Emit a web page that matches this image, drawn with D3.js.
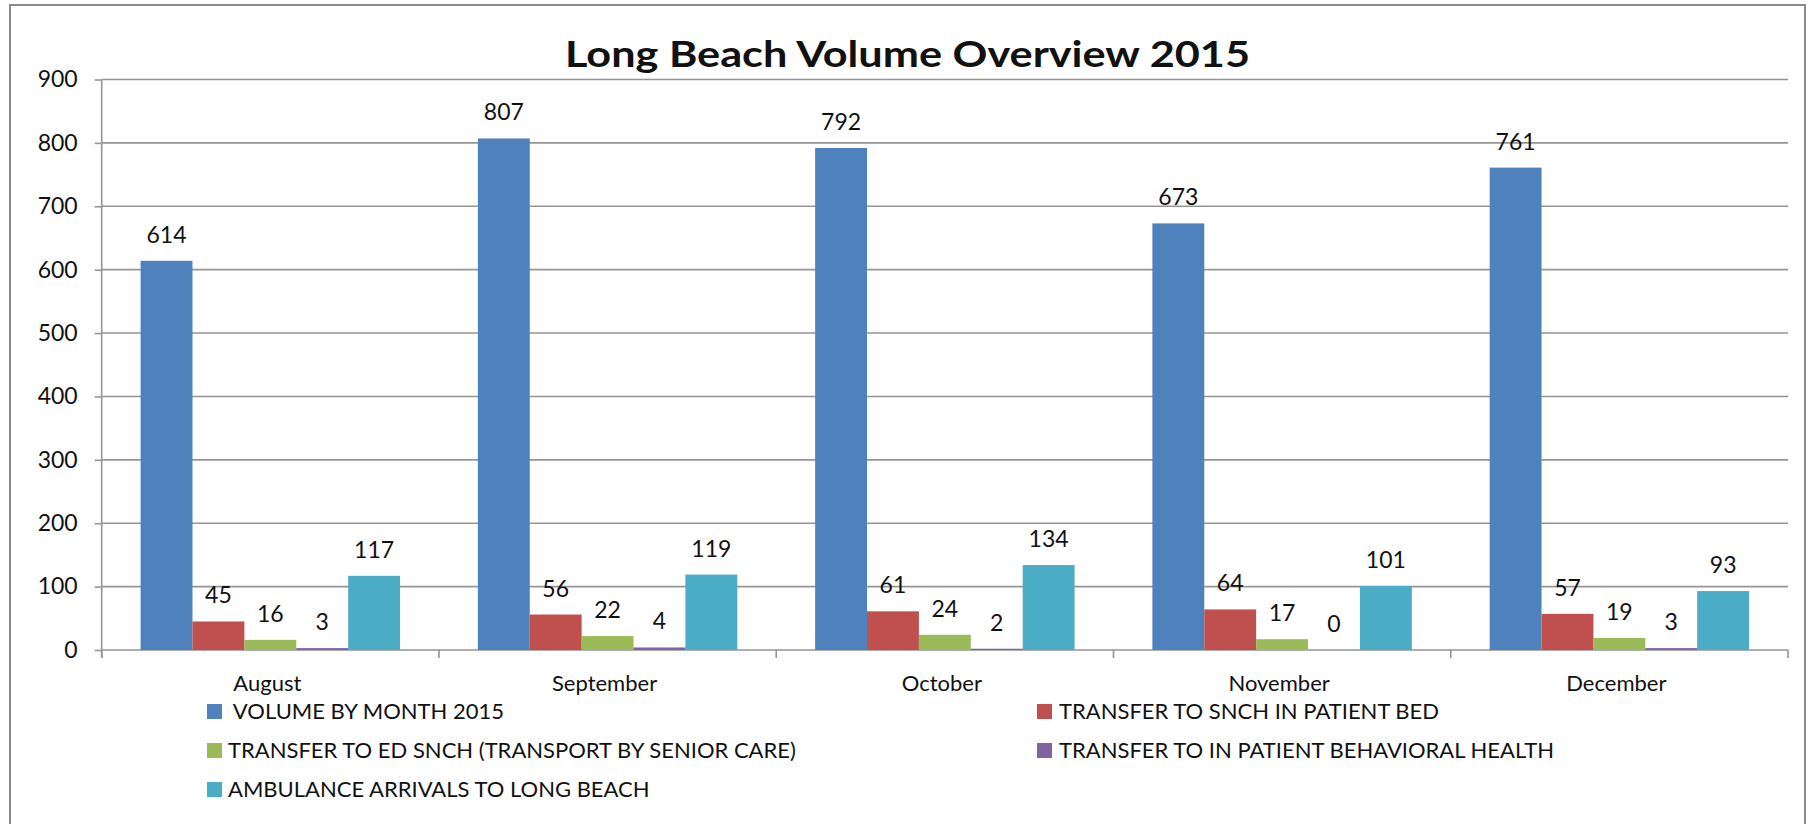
<!DOCTYPE html>
<html>
<head>
<meta charset="utf-8">
<script src="https://cdn.jsdelivr.net/npm/d3@7"></script>
<style>
  body { margin: 0; background: #fff; }
  text { font-family: Lato, "Open Sans", sans-serif; fill: #111; }
</style>
</head>
<body>
<script>
// chart values
const months = ["August", "September", "October", "November", "December"];
const seriesNames = [
  " VOLUME BY MONTH 2015",
  "TRANSFER TO SNCH IN PATIENT BED",
  "TRANSFER TO ED SNCH (TRANSPORT BY SENIOR CARE)",
  "TRANSFER TO IN PATIENT BEHAVIORAL HEALTH",
  "AMBULANCE ARRIVALS TO LONG BEACH"
];
const volume = [614, 807, 792, 673, 761];
const snchBed = [45, 56, 61, 64, 57];
const edSnch = [16, 22, 24, 17, 19];
const behavioral = [3, 4, 2, 0, 3];
const ambulance = [117, 119, 134, 101, 93];
const yTicks = [0, 100, 200, 300, 400, 500, 600, 700, 800, 900];
const colors = ["#4F81BD", "#C0504D", "#9BBB59", "#8064A2", "#4BACC6"];

const seriesValues = [volume, snchBed, edSnch, behavioral, ambulance];
const data = months.map((m, i) => ({
  month: m,
  values: seriesValues.map((s, j) => ({ key: j, value: s[i] }))
}));

var width = 1808, height = 824;
var plotLeft = 101.7, plotRight = 1788, plotTop = 79.5, plotBottom = 650;

var svg = d3.select("body").append("svg")
  .attr("width", width).attr("height", height);

// outer frame
svg.append("rect")
  .attr("x", 10).attr("y", 5).attr("width", 1795).attr("height", 840)
  .attr("fill", "none").attr("stroke", "#8a8a8a").attr("stroke-width", 2);

var x0 = d3.scaleBand().domain(months).range([plotLeft, plotRight]).padding(0);
var x1 = d3.scaleBand().domain(d3.range(5)).range([0, x0.bandwidth()])
  .paddingInner(0).paddingOuter(0.75);
var y = d3.scaleLinear().domain([0, 900]).range([plotBottom, plotTop]);

// gridlines
svg.append("g").selectAll("line").data(yTicks).enter().append("line")
  .attr("x1", plotLeft).attr("x2", plotRight)
  .attr("y1", d => y(d)).attr("y2", d => y(d))
  .attr("stroke", "#959595").attr("stroke-width", 1.6);

// y axis
var yAxis = d3.axisLeft(y).tickValues(yTicks).tickSize(7).tickPadding(17);
var gy = svg.append("g").attr("transform", "translate(" + plotLeft + ",0)").call(yAxis);
gy.select(".domain").remove();
gy.selectAll("line").attr("stroke", "#959595").attr("stroke-width", 1.6);
gy.selectAll("text").style("font-size", "23px").style("font-family", "Lato, sans-serif")
  .attr("fill", "#111");
svg.append("line").attr("x1", plotLeft).attr("x2", plotLeft).attr("y1", plotTop).attr("y2", plotBottom + 8)
  .attr("stroke", "#959595").attr("stroke-width", 1.6);

// x axis ticks at category boundaries
var bounds = months.map(m => x0(m)).concat([plotRight]);
svg.append("g").selectAll("line").data(bounds).enter().append("line")
  .attr("x1", d => d).attr("x2", d => d).attr("y1", plotBottom).attr("y2", plotBottom + 8)
  .attr("stroke", "#959595").attr("stroke-width", 1.6);

svg.append("g").selectAll("text").data(months).enter().append("text")
  .attr("x", d => x0(d) + x0.bandwidth() / 2 - 3)
  .attr("y", 691)
  .attr("text-anchor", "middle")
  .style("font-size", "22px")
  .text(d => d);

// bars
var groups = svg.append("g").selectAll("g").data(data).enter().append("g")
  .attr("transform", d => "translate(" + x0(d.month) + ",0)");
groups.selectAll("rect").data(d => d.values).enter().append("rect")
  .attr("x", d => x1(d.key))
  .attr("width", x1.bandwidth())
  .attr("y", d => y(d.value))
  .attr("height", d => plotBottom - y(d.value))
  .attr("fill", d => colors[d.key]);

// data labels
groups.selectAll("text").data(d => d.values).enter().append("text")
  .attr("x", d => x1(d.key) + x1.bandwidth() / 2)
  .attr("y", d => y(d.value) - 18)
  .attr("text-anchor", "middle")
  .style("font-size", "23px")
  .text(d => d.value);

// title
svg.append("text")
  .attr("x", 565).attr("y", 67)
  .attr("textLength", 685).attr("lengthAdjust", "spacingAndGlyphs")
  .style("font-size", "36px").style("font-weight", "bold")
  .attr("fill", "#000")
  .text("Long Beach Volume Overview 2015");

// legend
var legendPos = [
  { x: 207, y: 719, tx: 228 },
  { x: 1037, y: 719, tx: 1059 },
  { x: 207, y: 758, tx: 228 },
  { x: 1037, y: 758, tx: 1059 },
  { x: 207, y: 797, tx: 228 }
];
var legend = svg.append("g").selectAll("g").data(seriesNames).enter().append("g");
legend.append("rect")
  .attr("x", (d, i) => legendPos[i].x).attr("y", (d, i) => legendPos[i].y - 15)
  .attr("width", 15).attr("height", 15)
  .attr("fill", (d, i) => colors[i]);
legend.append("text")
  .attr("x", (d, i) => legendPos[i].tx).attr("y", (d, i) => legendPos[i].y)
  .attr("xml:space", "preserve")
  .style("white-space", "pre")
  .style("font-size", "22px")
  .text(d => d);
</script>
</body>
</html>
